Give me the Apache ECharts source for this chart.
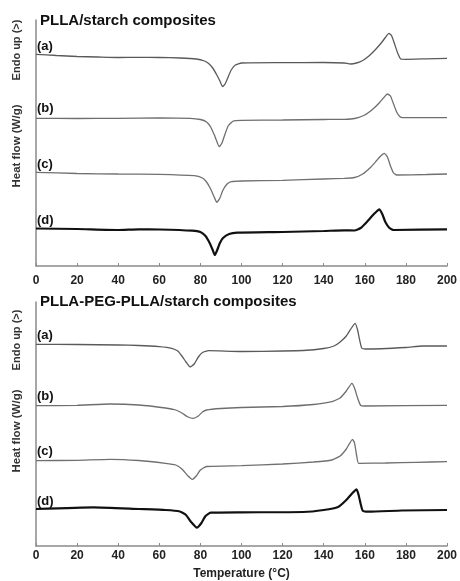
<!DOCTYPE html>
<html>
<head>
<meta charset="utf-8">
<script src="https://cdn.jsdelivr.net/npm/echarts@6/dist/echarts.min.js"></script>
<style>
html,body{margin:0;padding:0;background:#fff;}
#chart{width:460px;height:581px;}
</style>
</head>
<body>
<div id="chart"></div>
<script>
// Temperature axis ticks (°C)
var tempTicks = [0, 20, 40, 60, 80, 100, 120, 140, 160, 180, 200];
var curveLabels = ['(a)', '(b)', '(c)', '(d)'];
var panelTitles = ['PLLA/starch composites', 'PLLA-PEG-PLLA/starch composites'];
var xTitle = 'Temperature (°C)';
var yTitleTop = 'Endo up (>)';
var yTitleMain = 'Heat flow (W/g)';

// Heat flow (arbitrary offset units), [temperature, value]
// Panel 1: PLLA/starch composites
var pllaA = [[0,21.17],[10,21.05],[20,20.95],[30,20.9],[40,20.85],[50,20.87],[60,20.85],[70,20.8],[78,20.7],[82,20.5],[84,20.25],[86,19.8],[88,19.1],[89.5,18.5],[90.8,17.93],[92,18.2],[93.5,18.9],[95,19.6],[97,20.1],[100,20.3],[120,20.33],[140,20.35],[150,20.3],[153,20.2],[156,20.3],[159,20.55],[162,21.0],[165,21.6],[168,22.3],[170,22.85],[171.7,23.27],[173,23.05],[174.5,22.2],[176,21.3],[177.5,20.7],[180,20.67],[190,20.72],[200,20.77]];
var pllaB = [[0,14.77],[20,14.75],[40,14.77],[60,14.82],[75,14.77],[80,14.65],[83,14.4],[85,13.9],[87,13.0],[89.2,11.93],[90.5,12.3],[92,13.2],[93.5,14.0],[96,14.5],[100,14.57],[120,14.6],[140,14.65],[150,14.67],[155,14.75],[160,15.1],[164,15.7],[167,16.3],[169.5,16.9],[171,17.2],[172.5,17.0],[174,16.2],[175.5,15.4],[177,14.95],[178.5,14.83],[200,14.83]];
var pllaC = [[0,9.37],[20,9.25],[40,9.2],[60,9.17],[77,9.03],[81,8.8],[83,8.4],[85,7.7],[86.5,7.0],[88,6.37],[89.5,6.8],[91,7.6],[93,8.2],[95,8.43],[100,8.5],[120,8.57],[140,8.7],[150,8.77],[155,8.85],[159,9.2],[163,9.9],[166,10.6],[168,11.05],[169.5,11.27],[171,10.9],[172.5,10.0],[174,9.3],[175.5,9.1],[190,9.15],[200,9.2]];
var pllaD = [[0,3.75],[20,3.7],[40,3.6],[50,3.67],[60,3.65],[76,3.53],[80,3.4],[82.5,3.0],[84.5,2.3],[86,1.6],[87,1.1],[88,1.5],[89.5,2.3],[91,2.8],[94,3.2],[98,3.33],[120,3.4],[140,3.5],[150,3.57],[155,3.55],[158,3.8],[161,4.4],[164,5.1],[166,5.5],[167,5.67],[168.5,5.2],[170,4.4],[172,3.8],[174,3.6],[200,3.67]];
// Panel 2: PLLA-PEG-PLLA/starch composites
var pegA = [[0,20.17],[20,20.15],[40,20.1],[50,20.05],[60,19.93],[66,19.77],[69,19.5],[71,19.0],[73,18.4],[75,17.9],[77,18.2],[79,18.9],[81,19.35],[84,19.53],[100,19.45],[120,19.5],[130,19.55],[140,19.75],[145,20.0],[148,20.4],[151,21.0],[153.5,21.8],[155.3,22.27],[156.5,21.6],[157.5,20.6],[158.5,19.8],[160,19.7],[180,19.85],[188,20.0],[200,20.0]];
var pegB = [[0,14.03],[20,14.07],[36,14.2],[50,14.1],[63,13.8],[68,13.6],[71,13.3],[74,12.9],[76.5,12.77],[79,13.0],[81,13.4],[83,13.6],[90,13.75],[100,13.85],[120,13.95],[135,14.15],[144,14.43],[148,14.8],[151,15.5],[153.7,16.27],[155,15.8],[156.5,14.8],[158,14.05],[160,14.0],[200,14.07]];
var pegC = [[0,8.53],[20,8.57],[36,8.67],[50,8.55],[63,8.27],[68,8.1],[71,7.7],[74,7.0],[76,6.67],[78,7.0],[80,7.6],[83,7.95],[100,8.03],[120,8.2],[135,8.4],[144,8.6],[148,9.0],[151,9.7],[154,10.67],[155,10.3],[156,9.1],[157,8.27],[170,8.3],[185,8.37],[200,8.43]];
var pegD = [[0,3.7],[28,3.87],[50,3.7],[63,3.6],[70,3.45],[73,3.1],[75.5,2.4],[78.3,1.83],[80.5,2.3],[82.5,3.0],[85,3.33],[100,3.37],[130,3.4],[140,3.6],[147,3.9],[151,4.6],[154,5.3],[156,5.67],[157,5.1],[158,4.2],[159,3.53],[162,3.43],[178,3.55],[200,3.6]];

var panelCurves = [[pllaA, pllaB, pllaC, pllaD], [pegA, pegB, pegC, pegD]];

var chart = echarts.init(document.getElementById('chart'), null, {renderer: 'canvas'});
var FONT = '"Liberation Sans", Arial, sans-serif';
var grids = [
  {left: 36, top: 20, width: 415.5, height: 246},
  {left: 36, top: 302, width: 412, height: 244}
];
var yMax = [24.6, 24.4];
var labelMargin = [9, 4];

function xAxisFor(i) {
  return {
    type: 'value', gridIndex: i, min: 0, max: 200, interval: 20,
    name: i === 1 ? xTitle : '',
    nameLocation: 'middle', nameGap: 22,
    nameTextStyle: {fontFamily: FONT, fontWeight: 'bold', fontSize: 12, color: '#222'},
    axisLine: {show: true, onZero: false, lineStyle: {color: '#8a8a8a', width: 1.5}},
    axisTick: {show: true, inside: true, length: 3, lineStyle: {color: '#8a8a8a', width: 1}},
    axisLabel: {show: true, margin: labelMargin[i], fontFamily: FONT, fontWeight: 'bold', fontSize: 12, color: '#222',
      formatter: function (v) { return tempTicks.indexOf(v) >= 0 ? String(v) : ''; }},
    splitLine: {show: false}
  };
}
function yAxisFor(i) {
  return {
    type: 'value', gridIndex: i, min: 0, max: yMax[i],
    axisLine: {show: true, onZero: false, lineStyle: {color: '#8a8a8a', width: 1.5}},
    axisTick: {show: false}, axisLabel: {show: false}, splitLine: {show: false}
  };
}

var series = [];
var colors = ['#5a5a5a', '#6e6e6e', '#707070', '#111111'];
var widths = [1.3, 1.3, 1.3, 2.2];
panelCurves.forEach(function (curves, p) {
  curves.forEach(function (data, k) {
    series.push({
      type: 'line', xAxisIndex: p, yAxisIndex: p, data: data,
      symbol: 'none', smooth: 0.15, silent: true,
      lineStyle: {color: colors[k], width: widths[k]}
    });
  });
});

var graphic = [];
var titleY = [22, 303];
var labelY = [[46, 108, 164, 220], [335, 396.5, 451, 501]];
var endoY = [50, 340];
var heatY = [146, 431];
for (var p = 0; p < 2; p++) {
  graphic.push({type: 'text', left: 40, top: titleY[p] - 9, style: {text: panelTitles[p], font: 'bold 15px ' + FONT, fill: '#111'}});
  for (var k = 0; k < 4; k++) {
    graphic.push({type: 'text', x: 37, y: labelY[p][k], style: {text: curveLabels[k], font: 'bold 13px ' + FONT, fill: '#111', textVerticalAlign: 'middle'}});
  }
  graphic.push({type: 'text', x: 17, y: endoY[p], rotation: Math.PI / 2, style: {text: yTitleTop, font: 'bold 11px ' + FONT, fill: '#333', textAlign: 'center', textVerticalAlign: 'middle'}});
  graphic.push({type: 'text', x: 17, y: heatY[p], rotation: Math.PI / 2, style: {text: yTitleMain, font: 'bold 11.5px ' + FONT, fill: '#333', textAlign: 'center', textVerticalAlign: 'middle'}});
}

chart.setOption({
  animation: false,
  backgroundColor: '#ffffff',
  grid: grids,
  xAxis: [xAxisFor(0), xAxisFor(1)],
  yAxis: [yAxisFor(0), yAxisFor(1)],
  series: series,
  graphic: graphic
});
</script>
</body>
</html>
